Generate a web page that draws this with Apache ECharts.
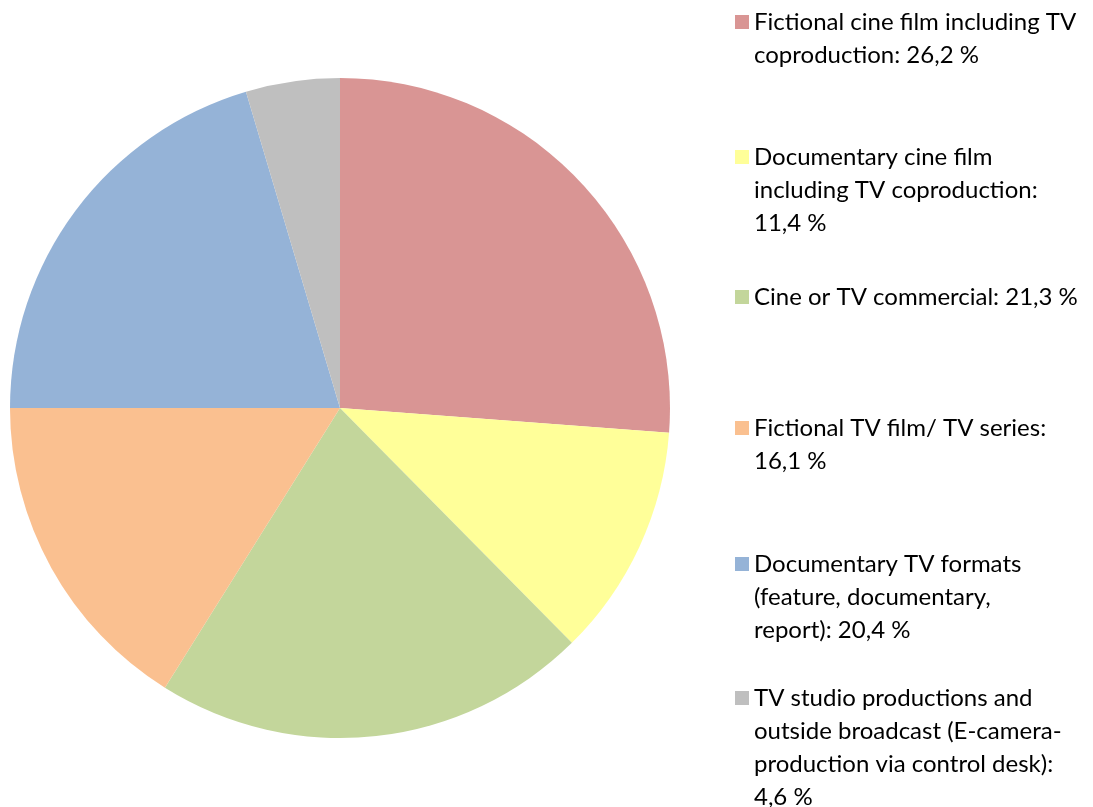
<!DOCTYPE html>
<html>
<head>
<meta charset="utf-8">
<script src="https://cdn.jsdelivr.net/npm/echarts@6/dist/echarts.min.js"></script>
<style>
  html, body { margin: 0; padding: 0; background: #fff; }
  #chart { width: 1093px; height: 807px; }
</style>
</head>
<body>
<div id="chart"></div>
<script>
// categories (line breaks as in the legend)
const categories = [
  'Fictional cine film including TV\ncoproduction',
  'Documentary cine film\nincluding TV coproduction',
  'Cine or TV commercial',
  'Fictional TV film/ TV series',
  'Documentary TV formats\n(feature, documentary,\nreport)',
  'TV studio productions and\noutside broadcast (E-camera-\nproduction via control desk)'
]
// share in percent
const values = [26.2, 11.4, 21.3, 16.1, 20.4, 4.6]
// whether the value goes on its own line
const valueOnNewLine = [false, true, false, true, false, true]
const colors = ['#D99594', '#FFFF99', '#C3D69B', '#FAC090', '#95B3D7', '#BFBFBF']

// y of the first legend line for each item
const legendLineY = [22, 157, 297, 428, 564, 698]
const lineH = 33
const fontFamily = 'Lato, "Open Sans", sans-serif'

const chart = echarts.init(document.getElementById('chart'))

const fmtLabel = (i) => {
  const v = values[i].toFixed(1).replace('.', ',') + ' %'
  return categories[i] + ':' + (valueOnNewLine[i] ? '\n' : ' ') + v
}

const legends = categories.map((name, i) => {
  const n = fmtLabel(i).split('\n').length
  // blank lines on top so the marker sits next to the first line
  const text = '\n'.repeat(n - 1) + fmtLabel(i)
  return {
    data: [{ name: name, icon: 'rect' }],
    orient: 'vertical',
    left: 735,
    top: legendLineY[i] - (2 * n - 1) * lineH / 2,
    padding: 0,
    itemWidth: 14,
    itemHeight: 14,
    selectedMode: false,
    formatter: () => text,
    textStyle: {
      fontFamily: fontFamily,
      fontSize: 24,
      color: '#000',
      lineHeight: lineH
    }
  }
})

const option = {
  animation: false,
  color: colors,
  legend: legends,
  series: [
    {
      type: 'pie',
      center: [340, 408],
      radius: 330,
      startAngle: 90,
      clockwise: true,
      label: { show: false },
      labelLine: { show: false },
      emphasis: { disabled: true },
      itemStyle: { borderWidth: 0 },
      data: categories.map((name, i) => ({ name: name, value: values[i] }))
    }
  ]
}
chart.setOption(option)
</script>
</body>
</html>
